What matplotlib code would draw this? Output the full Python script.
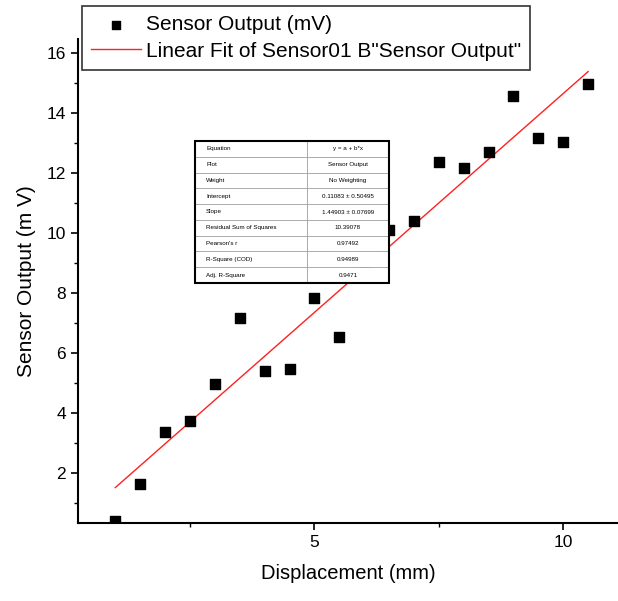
import numpy as np
import matplotlib
matplotlib.use('Agg')
import matplotlib.pyplot as plt
from matplotlib.ticker import MultipleLocator

plt.rcParams['font.family'] = ['Liberation Sans', 'DejaVu Sans']

# data
displacement = [1.0, 1.5, 2.0, 2.5, 3.0, 3.5, 4.0, 4.5, 5.0, 5.5, 6.0,
                6.5, 7.0, 7.5, 8.0, 8.5, 9.0, 9.5, 10.0, 10.5]
sensor_mv = [0.42, 1.64, 3.37, 3.75, 4.97, 7.17, 5.42, 5.48, 7.83, 6.55, 9.0,
             10.1, 10.42, 12.37, 12.17, 12.7, 14.58, 13.18, 13.04, 14.98]

table_keys = ['Equation', 'Plot', 'Weight', 'Intercept', 'Slope',
              'Residual Sum of Squares', "Pearson's r", 'R-Square (COD)', 'Adj. R-Square']
table_vals = ['y = a + b*x', 'Sensor Output', 'No Weighting', '0.11083 \u00b1 0.50495',
              '1.44903 \u00b1 0.07699', '10.39078', '0.97492', '0.94989', '0.9471']

x = np.array(displacement)
y = np.array(sensor_mv)
b, a = np.polyfit(x, y, 1)

W, H = 618, 601
fig = plt.figure(figsize=(W / 100, H / 100), dpi=100)
ax = fig.add_axes([78 / W, 1 - 523.3 / H, 540 / W, 484.3 / H])

ax.scatter(x, y, marker='s', s=60, color='black', zorder=3, label='Sensor Output (mV)')
xf = np.array([x.min(), x.max()])
ax.plot(xf, a + b * xf, color='#ff2020', lw=1.0, zorder=2,
        label='Linear Fit of Sensor01 B"Sensor Output"')

ax.set_xlim(0.25, 11.1)
ax.set_ylim(0.33, 16.48)
ax.xaxis.set_major_locator(MultipleLocator(5))
ax.xaxis.set_minor_locator(MultipleLocator(2.5))
ax.yaxis.set_major_locator(MultipleLocator(2))
ax.yaxis.set_minor_locator(MultipleLocator(1))
ax.tick_params(which='major', direction='out', length=5, width=1.2, labelsize=12.5)
ax.tick_params(which='minor', direction='out', length=3, width=1.0)
ax.spines['top'].set_visible(False)
ax.spines['right'].set_visible(False)
ax.spines['left'].set_linewidth(1.5)
ax.spines['bottom'].set_linewidth(1.5)

ax.set_xlabel('Displacement (mm)', fontsize=14.5, labelpad=10)
ax.set_ylabel('Sensor Output (m V)', fontsize=15, labelpad=8)

# fit parameters table
tx0, ty0 = (195 - 78) / 540, (523.3 - 283) / 484.3
tw, th = 194 / 540, 142 / 484.3
tbl = ax.table(cellText=[[k, v] for k, v in zip(table_keys, table_vals)],
               colWidths=[0.576, 0.424], cellLoc='left',
               bbox=[tx0, ty0, tw, th], zorder=5)
tbl.auto_set_font_size(False)
tbl.set_fontsize(4.5)
for (r, c), cell in tbl.get_celld().items():
    cell.set_edgecolor('#999999')
    cell.set_linewidth(0.5)
    cell.set_facecolor('white')
    if c == 1:
        cell.get_text().set_ha('center')
        cell._loc = 'center'
ax.add_patch(plt.Rectangle((tx0, ty0), tw, th, transform=ax.transAxes,
                           fill=False, ec='black', lw=1.5, zorder=6))

leg = fig.legend(loc='upper left', bbox_to_anchor=(82 / W, 1 - 6 / H), fontsize=15,
                 frameon=True, fancybox=False, edgecolor='black', handlelength=2.4,
                 handletextpad=0.2, borderpad=0.45, borderaxespad=0.0,
                 labelspacing=0.35, markerscale=0.8)
leg.get_frame().set_linewidth(1.2)

fig.savefig('out.png', dpi=100)
